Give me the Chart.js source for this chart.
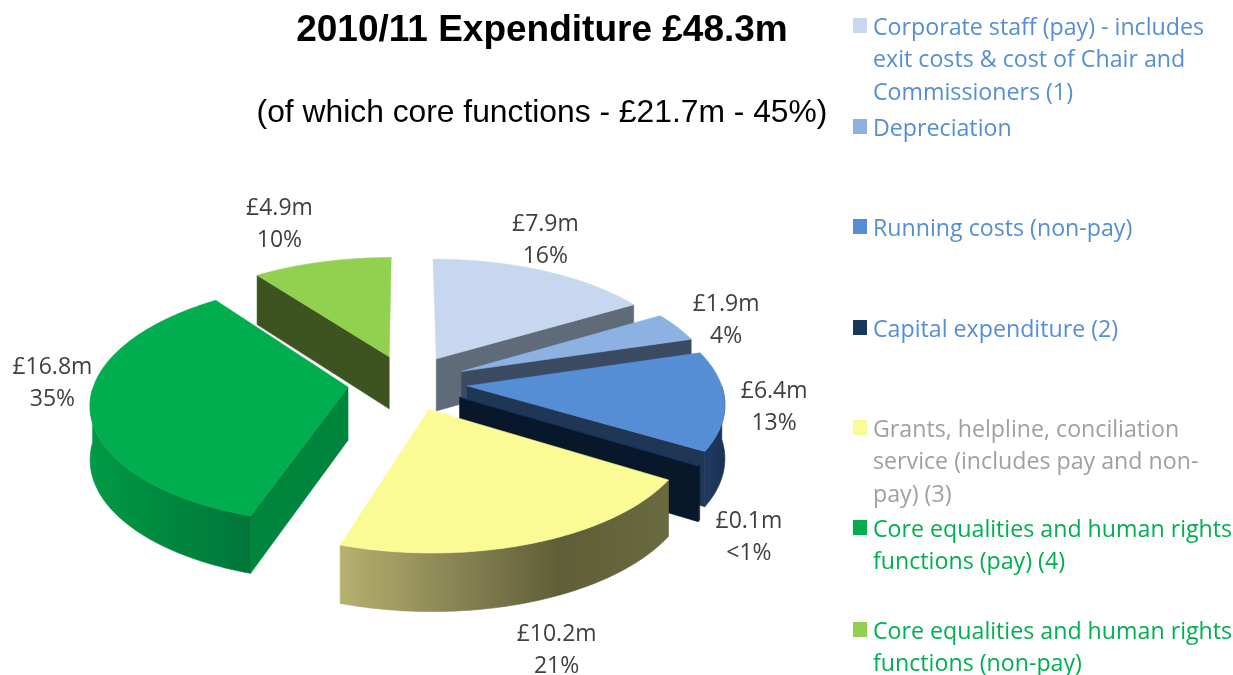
<!DOCTYPE html>
<html>
<head>
<meta charset="utf-8">
<title>2010/11 Expenditure</title>
<script src="https://cdn.jsdelivr.net/npm/chart.js@4/dist/chart.umd.min.js"></script>
<style>
html, body { margin: 0; padding: 0; background: #fff; }
#wrap { position: relative; width: 1233px; height: 675px; overflow: hidden; }
#pie { position: absolute; left: 0; top: 0; }
#title, #subtitle { position: absolute; left: 242px; width: 600px; text-align: center; color: #000; font-family: "Liberation Sans", sans-serif; white-space: nowrap; }
#title { top: 8px; font-size: 37px; line-height: 42px; font-weight: bold; }
#subtitle { top: 91px; font-size: 31.8px; line-height: 40px; }
.item { position: absolute; left: 873px; width: 362px; font-family: "Open Sans", sans-serif; font-size: 23.2px; line-height: 32.3px; }
.swatch { position: absolute; left: -20px; top: 8px; width: 14px; height: 15px; }
</style>
</head>
<body>
<div id="wrap">
  <canvas id="pie" width="1233" height="675"></canvas>
  <div id="title">2010/11 Expenditure £48.3m</div>
  <div id="subtitle">(of which core functions - £21.7m - 45%)</div>
  <div id="legend"></div>
</div>
<script>
var categories = [
    'Corporate staff (pay) - includes exit costs & cost of Chair and Commissioners (1)',
    'Depreciation',
    'Running costs (non-pay)',
    'Capital expenditure (2)',
    'Grants, helpline, conciliation service (includes pay and non-pay) (3)',
    'Core equalities and human rights functions (pay) (4)',
    'Core equalities and human rights functions (non-pay)'
];
var amounts = [7.9, 1.9, 6.4, 0.1, 10.2, 16.8, 4.9];
var amountLabels = ['£7.9m', '£1.9m', '£6.4m', '£0.1m', '£10.2m', '£16.8m', '£4.9m'];
var shareLabels = ['16%', '4%', '13%', '<1%', '21%', '35%', '10%'];

var topColors = ['#c6d7ef', '#8db1e2', '#558ed5', '#17375e', '#fbfb95', '#00ae4f', '#92d050'];
var faceColors = ['#5f6b78', '#3a4a60', '#203655', '#08182a', '#66663c', '#00853c', '#3d5320'];
var wallStops = [
    ['#5f6b78', '#5f6b78'],
    ['#3a4a60', '#3a4a60'],
    ['#1f3a63', '#1c3154'],
    ['#08182a', '#08182a'],
    ['#b5b16f', '#8a8655', '#5f5e38', '#6a6a40'],
    ['#009a46', '#00873e', '#00763a'],
    ['#3d5320', '#3d5320']
];
var textColors = ['#558ed5', '#558ed5', '#558ed5', '#558ed5', '#a0a0a0', '#00b050', '#00b050'];
var legendTops = [10, 111, 211, 312, 412, 512, 614];
// label nudges from the projected anchor, by slice
var labelNudge = [[-13, -18], [17, 0], [8, 4], [9, 61], [3, 83], [4, -27], [-33, -24]];

var TILT = 0.465, PERSP = 0.0005, DEPTH = 53, LABEL_GAP = 40;

function project(arc, wx, wy, drop) {
    var k = 1 / (1 - wy * PERSP);
    return { x: arc.x + wx * k, y: arc.y + wy * TILT * k + drop * Math.pow(k, 0.6) };
}

function rimPoint(arc, angle, drop) {
    var mid = (arc.startAngle + arc.endAngle) / 2;
    var off = arc.options.offset || 0;
    return project(arc,
        Math.cos(mid) * off + Math.cos(angle) * arc.outerRadius,
        Math.sin(mid) * off + Math.sin(angle) * arc.outerRadius, drop);
}

function apexPoint(arc, drop) {
    var mid = (arc.startAngle + arc.endAngle) / 2;
    var off = arc.options.offset || 0;
    return project(arc, Math.cos(mid) * off, Math.sin(mid) * off, drop);
}

function fillPoly(ctx, pts, fill) {
    ctx.beginPath();
    pts.forEach(function (p, i) {
        if (i === 0) ctx.moveTo(p.x, p.y); else ctx.lineTo(p.x, p.y);
    });
    ctx.closePath();
    ctx.fillStyle = fill;
    ctx.fill();
    ctx.strokeStyle = fill;
    ctx.lineWidth = 0.6;
    ctx.stroke();
}

function drawSlice(ctx, arc, i) {
    var steps = 90, a, n;

    // cut faces, only the ones turned towards the viewer
    if (-Math.cos(arc.startAngle) > 0) {
        fillPoly(ctx, [apexPoint(arc, 0), rimPoint(arc, arc.startAngle, 0), rimPoint(arc, arc.startAngle, DEPTH), apexPoint(arc, DEPTH)], faceColors[i]);
    }
    if (Math.cos(arc.endAngle) > 0) {
        fillPoly(ctx, [apexPoint(arc, 0), rimPoint(arc, arc.endAngle, 0), rimPoint(arc, arc.endAngle, DEPTH), apexPoint(arc, DEPTH)], faceColors[i]);
    }

    // outer wall
    var upper = [], lower = [];
    for (n = 0; n <= steps; n++) {
        a = arc.startAngle + (arc.endAngle - arc.startAngle) * n / steps;
        if (Math.sin(a) >= 0) {
            upper.push(rimPoint(arc, a, 0));
            lower.unshift(rimPoint(arc, a, DEPTH));
        }
    }
    if (upper.length > 1) {
        var xs = upper.map(function (p) { return p.x; });
        var grad = ctx.createLinearGradient(Math.min.apply(null, xs), 0, Math.max.apply(null, xs), 0);
        wallStops[i].forEach(function (c, s, all) { grad.addColorStop(s / (all.length - 1), c); });
        fillPoly(ctx, upper.concat(lower), grad);
    }

    // top surface
    var top = [apexPoint(arc, 0)];
    for (n = 0; n <= steps; n++) {
        a = arc.startAngle + (arc.endAngle - arc.startAngle) * n / steps;
        top.push(rimPoint(arc, a, 0));
    }
    fillPoly(ctx, top, arc.options.backgroundColor);
}

var pie3d = {
    id: 'pie3d',
    beforeDatasetsDraw: function (chart) {
        var ctx = chart.ctx;
        var arcs = chart.getDatasetMeta(0).data;
        var order = arcs.map(function (a, i) { return i; });
        order.sort(function (p, q) {
            return Math.sin((arcs[p].startAngle + arcs[p].endAngle) / 2) - Math.sin((arcs[q].startAngle + arcs[q].endAngle) / 2);
        });
        ctx.save();
        order.forEach(function (i) { drawSlice(ctx, arcs[i], i); });
        ctx.restore();
        return false;
    },
    afterDraw: function (chart) {
        var ctx = chart.ctx;
        ctx.save();
        ctx.font = '23px "Open Sans", sans-serif';
        ctx.fillStyle = '#404040';
        ctx.textAlign = 'center';
        ctx.textBaseline = 'middle';
        chart.getDatasetMeta(0).data.forEach(function (arc, i) {
            var mid = (arc.startAngle + arc.endAngle) / 2;
            var r = arc.outerRadius + (arc.options.offset || 0) + LABEL_GAP;
            var p = project(arc, Math.cos(mid) * r, Math.sin(mid) * r, 0);
            var x = p.x + labelNudge[i][0], y = p.y + labelNudge[i][1];
            ctx.fillText(amountLabels[i], x, y - 16);
            ctx.fillText(shareLabels[i], x, y + 16);
        });
        ctx.restore();
    }
};

document.addEventListener('DOMContentLoaded', function () {
    new Chart(document.getElementById('pie'), {
        type: 'pie',
        data: {
            labels: categories,
            datasets: [{
                data: amounts,
                backgroundColor: topColors,
                offset: 60,
                borderWidth: 0
            }]
        },
        options: {
            responsive: false,
            animation: false,
            radius: 253.5,
            layout: { padding: { left: 0, top: 90, right: 418, bottom: 0 } },
            plugins: { legend: { display: false }, tooltip: { enabled: false } }
        },
        plugins: [pie3d]
    });

    // legend down the right hand side, rows are not evenly spaced so built by hand
    var legend = document.getElementById('legend');
    categories.forEach(function (name, i) {
        var row = document.createElement('div');
        row.className = 'item';
        row.style.top = legendTops[i] + 'px';
        row.style.color = textColors[i];
        var box = document.createElement('span');
        box.className = 'swatch';
        box.style.background = topColors[i];
        row.appendChild(box);
        row.appendChild(document.createTextNode(name));
        legend.appendChild(row);
    });
});
</script>
</body>
</html>
